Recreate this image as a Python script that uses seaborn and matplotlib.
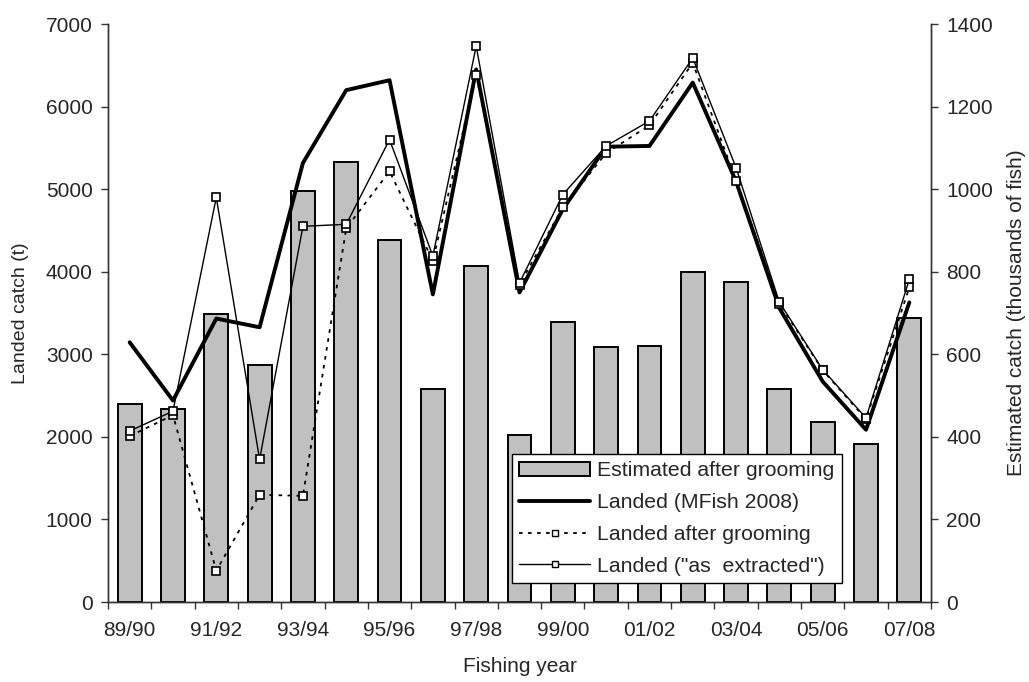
import numpy as np
import pandas as pd
import matplotlib
matplotlib.use("Agg")
import matplotlib.pyplot as plt
from matplotlib.lines import Line2D
from matplotlib.patches import Patch
import seaborn as sns

# Fishing years
years = ["89/90", "90/91", "91/92", "92/93", "93/94", "94/95", "95/96", "96/97",
         "97/98", "98/99", "99/00", "00/01", "01/02", "02/03", "03/04", "04/05",
         "05/06", "06/07", "07/08"]

# Estimated catch after grooming (thousands of fish)
estimated = [480, 468, 698, 573, 996, 1065, 876, 517, 815, 404,
             678, 618, 621, 800, 775, 517, 435, 383, 687]

# Landed catch (t)
landed_mfish = [3145, 2440, 3433, 3327, 5317, 6199, 6319, 3725, 6450, 3749,
                4756, 5514, 5523, 6290, 5092, 3558, 2670, 2086, 3629]
landed_groomed = [2009, 2263, 379, 1299, 1285, 4526, 5216, 4133, 6386, 3845,
                  4780, 5437, 5773, 6530, 5101, 3615, 2805, 2215, 3812]
landed_extracted = [2071, 2311, 4900, 1726, 4550, 4574, 5600, 4190, 6732, 3864,
                    4934, 5523, 5825, 6588, 5260, 3629, 2814, 2229, 3908]

sns.set_style("white")
plt.rcParams["font.family"] = ["Liberation Sans", "DejaVu Sans"]
plt.rcParams["font.size"] = 15

FS = 15
fig = plt.figure(figsize=(10.29, 6.82), dpi=100)
ax = fig.add_axes([108 / 1029, 1 - 602 / 682, (931 - 108) / 1029, (602 - 24) / 682])
ax2 = ax.twinx()

x = np.arange(len(years))
df = pd.DataFrame({"year": years, "est": estimated})

# Bars on the right-hand axis
sns.barplot(data=df, x="year", y="est", ax=ax2, color="#c0c0c0", width=0.55,
            edgecolor="black", linewidth=1.4, saturation=1)
ax2.set_ylim(0, 1400)
ax2.set_yticks(np.arange(0, 1401, 200))
ax2.set_ylabel("Estimated catch (thousands of fish)", fontsize=15, labelpad=10)
ax2.set_xlabel("")

# Lines on the left-hand axis, drawn above the bars
ax.set_zorder(ax2.get_zorder() + 1)
ax.patch.set_visible(False)

MS = 6
sns.lineplot(x=x, y=landed_mfish, ax=ax, color="black", linewidth=2.8)
sns.lineplot(x=x, y=landed_groomed, ax=ax, color="black", linewidth=1.3,
             linestyle=(0, (2, 3)), marker="s", markersize=MS,
             markerfacecolor="white", markeredgecolor="black", markeredgewidth=1.2)
sns.lineplot(x=x, y=landed_extracted, ax=ax, color="black", linewidth=1.0,
             marker="s", markersize=MS, markerfacecolor="white",
             markeredgecolor="black", markeredgewidth=1.2)

ax.set_ylim(0, 7000)
ax.set_yticks(np.arange(0, 7001, 1000))
ax.set_xlim(-0.5, len(years) - 0.5)
ax2.set_xlim(-0.5, len(years) - 0.5)

# Tick marks at category boundaries, labels on every second year
ax.set_xticks(np.arange(-0.5, len(years), 1.0))
ax.set_xticklabels([])
ax.set_xticks(x[::2], minor=True)
ax.set_xticklabels([years[i] for i in x[::2]], minor=True)
ax.tick_params(axis="x", which="major", direction="out", length=5, width=1, color="#333333", bottom=True)
ax.tick_params(axis="x", which="minor", length=0, pad=14, labelsize=FS)
ax.tick_params(axis="y", direction="out", length=5, width=1, color="#333333", left=True, labelsize=FS, pad=6)
ax2.tick_params(axis="y", direction="out", length=5, width=1, color="#333333", right=True, labelsize=FS, pad=6)
ax2.tick_params(axis="x", length=0, labelbottom=False)

ax.set_ylabel("Landed catch (t)", fontsize=14, labelpad=12)
ax.set_xlabel("Fishing year", fontsize=FS, labelpad=12)

for a in (ax, ax2):
    a.spines["top"].set_visible(False)
    for s in ("left", "right", "bottom"):
        a.spines[s].set_color("#333333")
        a.spines[s].set_linewidth(1.0)

handles = [
    Patch(facecolor="#c0c0c0", edgecolor="black", linewidth=1.4),
    Line2D([], [], color="black", linewidth=2.8),
    Line2D([], [], color="black", linewidth=1.3, linestyle=(0, (2, 3)), marker="s",
           markersize=5, markerfacecolor="white", markeredgecolor="black"),
    Line2D([], [], color="black", linewidth=1.0, marker="s", markersize=5,
           markerfacecolor="white", markeredgecolor="black"),
]
labels = ["Estimated after grooming", "Landed (MFish 2008)",
          "Landed after grooming", 'Landed ("as  extracted")']
leg = ax.legend(handles, labels, loc="lower left",
                bbox_to_anchor=((512 - 108) / 823, (602 - 583) / 578),
                frameon=True, fancybox=False, edgecolor="black", framealpha=1,
                fontsize=15.3, handlelength=3.3, handleheight=0.6, handletextpad=0.35,
                labelspacing=0.6, borderpad=0.35, borderaxespad=0)
leg.get_frame().set_linewidth(1.0)

fig.savefig("out.png", dpi=100)
